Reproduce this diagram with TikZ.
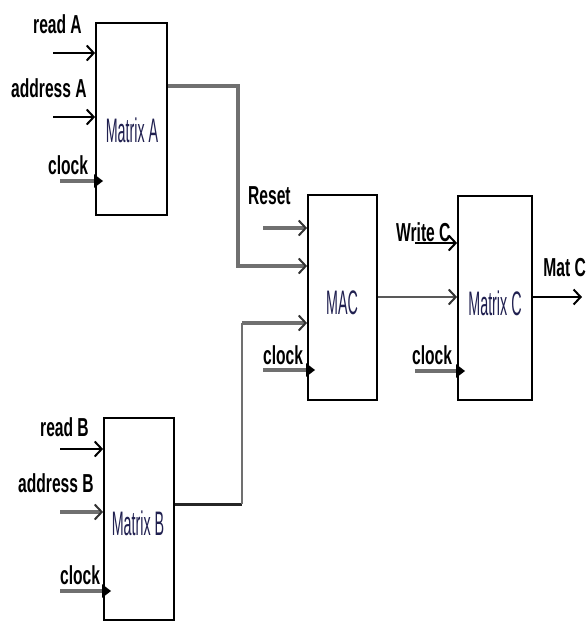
\documentclass[tikz,border=0pt]{standalone}
\usepackage{fontspec}
\usetikzlibrary{arrows.meta}
\newfontfamily\labfont{Liberation Sans}[FakeStretch=0.6]
\newfontfamily\boxfont{Liberation Sans}[FakeStretch=0.42]
\definecolor{navy}{HTML}{202050}
\definecolor{wire}{HTML}{707070}
\begin{document}
\begin{tikzpicture}[x=1pt,y=-1pt,
  blk/.style={draw, line width=1.8pt, inner sep=0pt},
  lbl/.style={font=\labfont\bfseries\fontsize{26}{26}\selectfont, inner sep=0pt, anchor=west},
  boxlbl/.style={font=\boxfont\fontsize{34}{34}\selectfont, text=navy, inner sep=0pt},
  sig/.style={line width=2.4pt, -{Straight Barb[length=7pt,width=15pt,line width=2pt]}},
  gsig/.style={draw=wire, line width=3.8pt, -{Straight Barb[length=7pt,width=15pt,line width=2pt,color=black!80]}},
  clk/.style={draw=wire, line width=3.8pt, -{Triangle[length=9pt,width=13pt,color=black]}, shorten >=-8pt},
]
\useasboundingbox (0,0) rectangle (587,622);

% boxes
\node[blk, minimum width=71pt, minimum height=192pt] (mA) at (131.5,119) {};
\node[blk, minimum width=69pt, minimum height=205pt] (mac) at (342.5,297.5) {};
\node[blk, minimum width=74pt, minimum height=204pt] (mC) at (495,298) {};
\node[blk, minimum width=70pt, minimum height=202pt] (mB) at (139,519) {};

% box labels
\node[boxlbl] (tA) at (132,130) {Matrix A};
\node[boxlbl] (tmac) at (342,303) {MAC};
\node[boxlbl] (tC) at (495,303) {Matrix C};
\node[boxlbl] (tB) at (138,523) {Matrix B};

% signal labels
\node[lbl] (lrA) at (33,24) {read A};
\node[lbl] (laA) at (11,88) {address A};
\node[lbl] (lcA) at (48,165) {clock};
\node[lbl] (lrst) at (248,196) {Reset};
\node[lbl] (lcM) at (263,355) {clock};
\node[lbl] (lwC) at (396,232) {Write C};
\node[lbl] (lcC) at (412,355) {clock};
\node[lbl, anchor=east] (lmC) at (586,268) {Mat C};
\node[lbl] (lrB) at (40,427) {read B};
\node[lbl] (laB) at (18,483) {address B};
\node[lbl] (lcB) at (60,575) {clock};

% free ends
\coordinate (rA) at (53,53);
\coordinate (aA) at (53,117);
\coordinate (cA) at (60,181);
\coordinate (rB) at (60,449);
\coordinate (aB) at (60,512);
\coordinate (cB) at (60,591);
\coordinate (rst) at (263,228);
\coordinate (cM) at (263,370);
\coordinate (wC) at (415,243);
\coordinate (cC) at (415,371);
\coordinate (outC) at (582,297);
\coordinate (oA) at (167,86);
\coordinate (kA) at (238,86);
\coordinate (kA2) at (238,266);
\coordinate (oB) at (174,504);
\coordinate (kB) at (242,504);
\coordinate (kB2) at (242,323);
\coordinate (oM) at (377,297);

% Matrix A inputs
\draw[sig] (rA) -- (rA -| mA.west);
\draw[sig] (aA) -- (aA -| mA.west);
\draw[clk] (cA) -- (cA -| mA.west);

% Matrix B inputs
\draw[sig] (rB) -- (rB -| mB.west);
\draw[gsig] (aB) -- (aB -| mB.west);
\draw[clk] (cB) -- (cB -| mB.west);

% MAC inputs
\draw[gsig] (rst) -- (rst -| mac.west);
\draw[gsig] (oA -| mA.east) -- (kA) -- (kA2) -- (kA2 -| mac.west);
\draw[draw=black!85, line width=3pt] (oB -| mB.east) -- (kB);
\draw[draw=wire, line width=2.6pt] (kB) -- (kB2);
\draw[gsig] (kB2) -- (kB2 -| mac.west);
\draw[clk] (cM) -- (cM -| mac.west);

% Matrix C inputs
\draw[sig] (wC) -- (wC -| mC.west);
\draw[gsig, draw=black!65, line width=2.8pt] (oM -| mac.east) -- (oM -| mC.west);
\draw[clk] (cC) -- (cC -| mC.west);

% output
\draw[sig] (outC -| mC.east) -- (outC);
\end{tikzpicture}
\end{document}
